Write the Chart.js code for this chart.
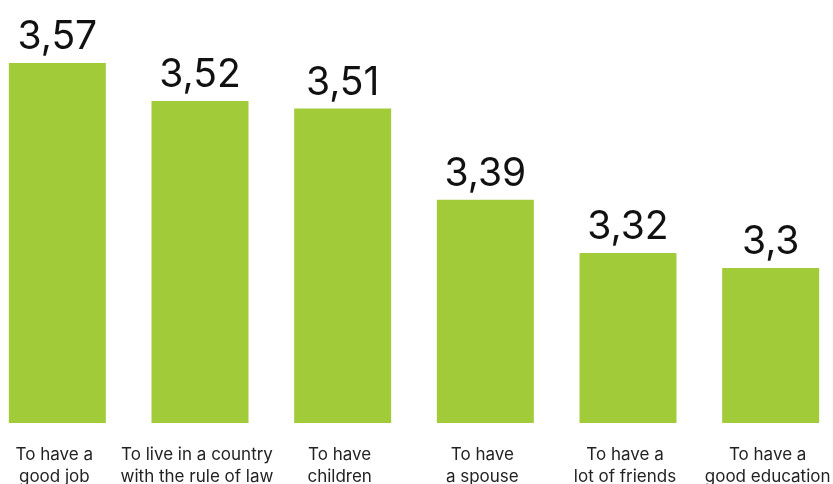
<!DOCTYPE html>
<html>
<head>
<meta charset="utf-8">
<script src="https://cdn.jsdelivr.net/npm/chart.js@4"></script>
<style>
  html, body { margin: 0; padding: 0; background: #fff; overflow: hidden; }
  #wrap { position: relative; width: 833px; height: 484px; overflow: hidden; }
  #goals-chart { position: absolute; left: -14px; top: 0; }
</style>
</head>
<body>
<div id="wrap">
  <canvas id="goals-chart" width="856" height="484"></canvas>
</div>
<script>
// Life goals, average importance score
const categories = [
    ['To have a', 'good job'],
    ['To live in a country', 'with the rule of law'],
    ['To have', 'children'],
    ['To have', 'a spouse'],
    ['To have a', 'lot of friends'],
    ['To have a', 'good education']
];
const scores = [3.57, 3.52, 3.51, 3.39, 3.32, 3.3];

const barColor = '#a2cb39';

// Writes the score over each bar with a decimal comma
const valueLabels = {
    id: 'valueLabels',
    afterDatasetsDraw(chart) {
        const ctx = chart.ctx;
        const meta = chart.getDatasetMeta(0);
        ctx.save();
        ctx.font = '400 39px Inter, "Noto Sans", sans-serif';
        ctx.fillStyle = '#111';
        ctx.textAlign = 'center';
        ctx.textBaseline = 'alphabetic';
        meta.data.forEach((bar, i) => {
            const text = String(scores[i]).replace('.', ',');
            ctx.fillText(text, bar.x, bar.y - 14);
        });
        ctx.restore();
    }
};

const ctx = document.getElementById('goals-chart').getContext('2d');
new Chart(ctx, {
    type: 'bar',
    data: {
        labels: categories,
        datasets: [{
            data: scores,
            backgroundColor: barColor,
            borderWidth: 0,
            barPercentage: 0.68,
            categoryPercentage: 1
        }]
    },
    options: {
        responsive: false,
        animation: false,
        layout: { padding: 0 },
        plugins: {
            legend: { display: false },
            tooltip: { enabled: false }
        },
        scales: {
            x: {
                grid: { display: false, drawTicks: false },
                border: { display: false },
                ticks: {
                    color: '#222',
                    padding: 21,
                    labelOffset: -3,
                    maxRotation: 0,
                    autoSkip: false,
                    font: { family: 'Inter, "Noto Sans", sans-serif', size: 17, lineHeight: 1.3 }
                },
                afterFit(scale) {
                    // keep the bars spread over the full canvas width
                    scale.height = 61;
                    scale.paddingLeft = 0;
                    scale.paddingRight = 0;
                }
            },
            y: {
                display: false,
                min: 3.096,
                max: 3.653
            }
        }
    },
    plugins: [valueLabels]
});
</script>
</body>
</html>
